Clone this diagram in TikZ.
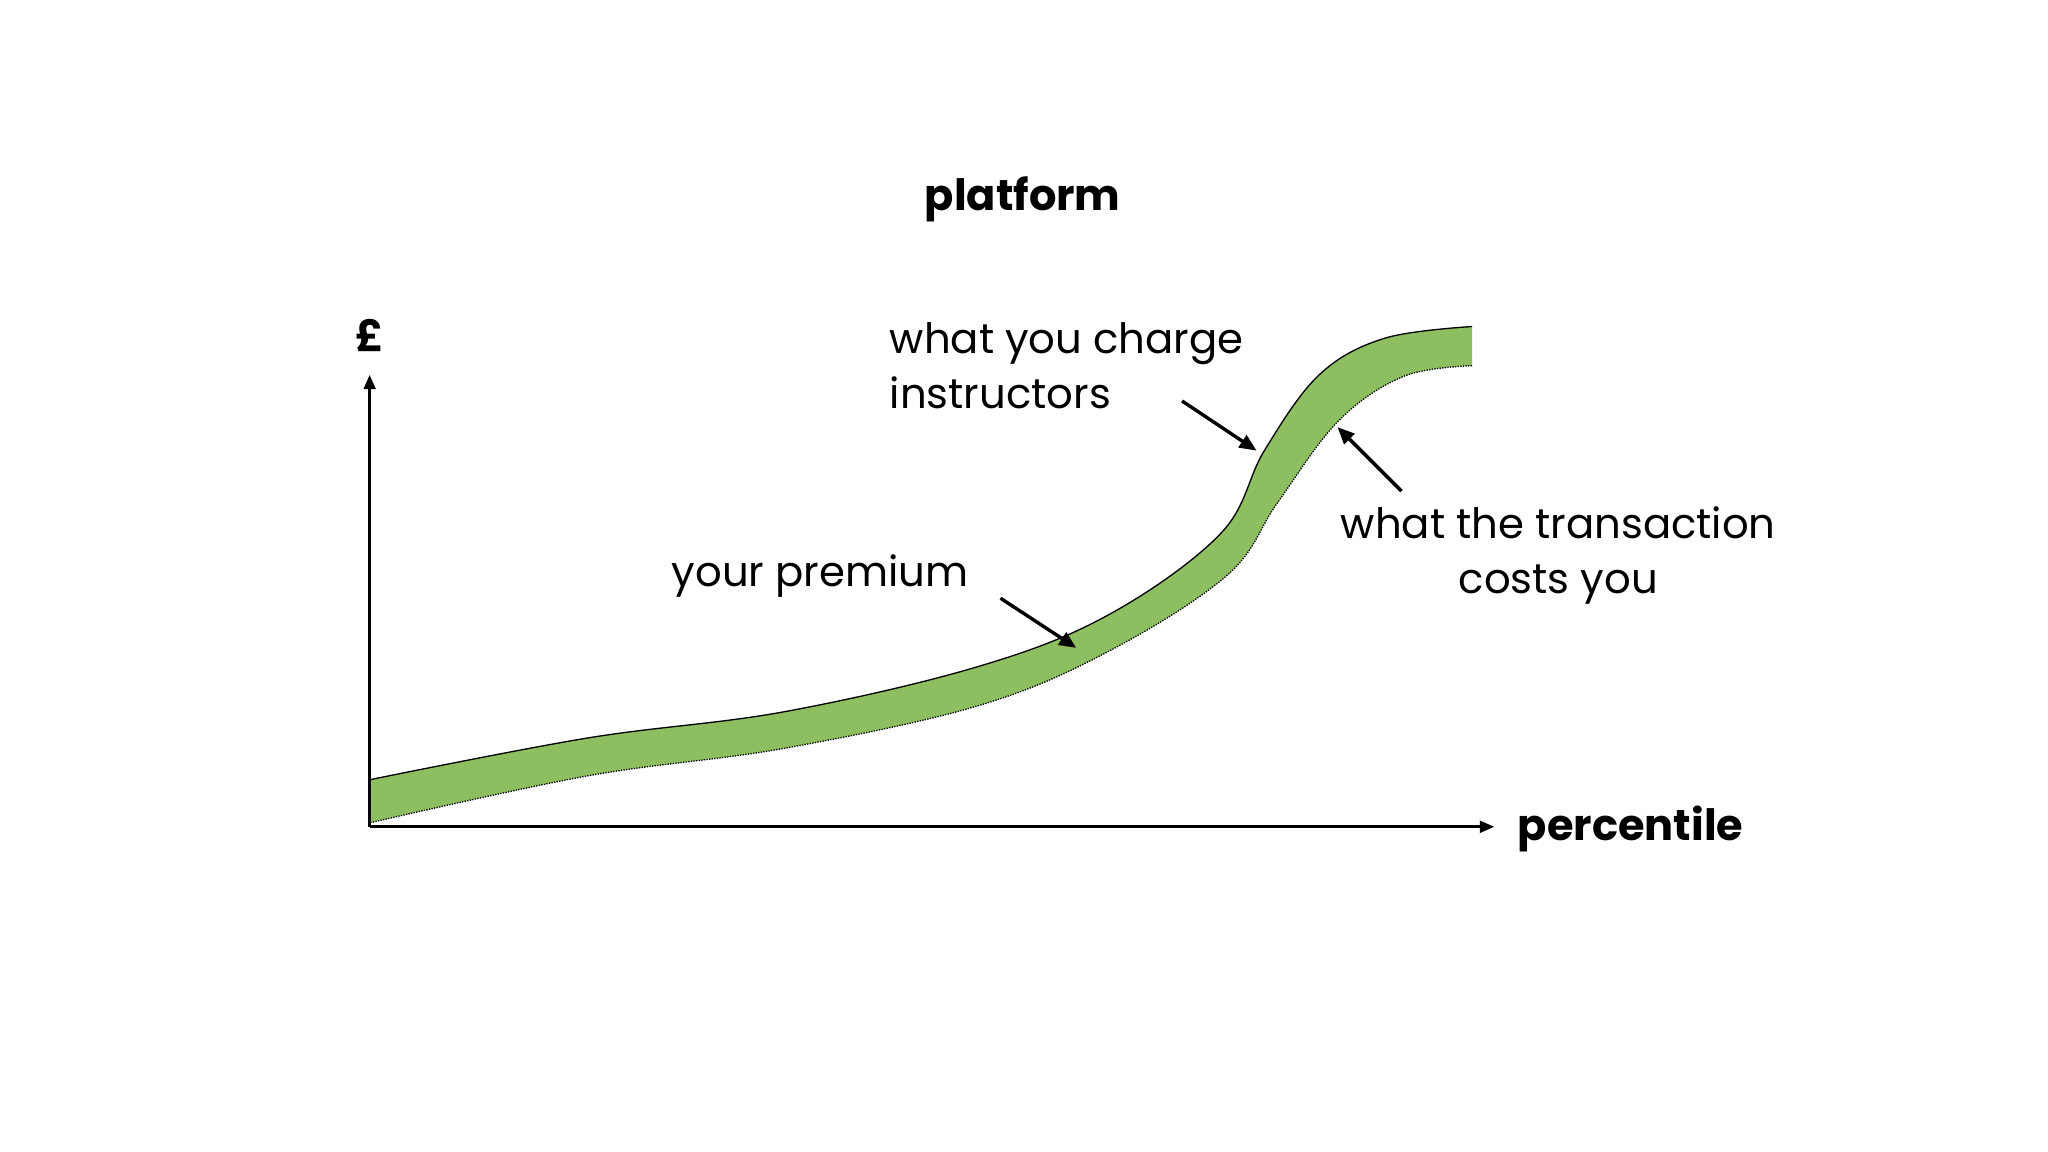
\documentclass[tikz,border=0pt]{standalone}
\usepackage{fontspec}
\setmainfont{Poppins}
\usetikzlibrary{arrows.meta}
\begin{document}
\begin{tikzpicture}[x=1pt,y=-1pt,
  lbl/.style={font=\fontsize{33}{42}\selectfont\itshape\relax, text=black, inner sep=0},
  ttl/.style={font=\fontsize{33}{40}\selectfont\bfseries, inner sep=0},
  axis/.style={line width=2.2pt,-{Triangle[length=11pt,width=9pt]}},
  pointer/.style={line width=2.6pt,-{Triangle[length=13pt,width=11pt]}}]
\useasboundingbox (0,0) rectangle (1568,882);
\fill[white] (0,0) rectangle (1568,882);
% band
\fill[fill={rgb,255:red,141;green,190;blue,95}]
  plot[smooth,tension=0.6] coordinates {(283,597) (450,565) (600,545) (750,510) (850,470) (935,408) (968,345) (1010,287) (1060,259) (1127,250)}
  -- (1127,280)
  -- plot[smooth,tension=0.6] coordinates {(1127,280) (1075,288) (1025,322) (978,385) (940,440) (850,498) (750,540) (600,573) (450,594) (283,630)} -- cycle;
\draw[line width=1pt] plot[smooth,tension=0.6] coordinates {(283,597) (450,565) (600,545) (750,510) (850,470) (935,408) (968,345) (1010,287) (1060,259) (1127,250)};
\draw[line width=1pt,densely dotted] plot[smooth,tension=0.6] coordinates {(1127,280) (1075,288) (1025,322) (978,385) (940,440) (850,498) (750,540) (600,573) (450,594) (283,630)};
% axes
\coordinate (o) at (283,633);
\coordinate (ytop) at (283,287);
\coordinate (xend) at (1144,633);
\draw[axis] (o) -- (ytop);
\draw[axis] (o) -- (xend);
\node[ttl] (pound) at (283,257) {£};
\node[ttl,anchor=west] (pct) at (1162,635) {percentile};
\node[ttl] (title) at (783,153) {platform};
% labels
\node[anchor=west,align=left,font=\fontsize{32}{42}\selectfont,inner sep=0] (charge) at (681,280) {what you charge\\instructors};
\node[font=\fontsize{32}{42}\selectfont,inner sep=0] (prem) at (628,441) {your premium};
\node[align=center,font=\fontsize{32}{42}\selectfont,inner sep=0] (cost) at (1193,425) {what the transaction\\costs you};
% pointers
\coordinate (a1s) at (905,307); \coordinate (a1e) at (962,345);
\coordinate (a2s) at (766,458); \coordinate (a2e) at (824,496);
\coordinate (a3s) at (1073,376); \coordinate (a3e) at (1024,327);
\draw[pointer] (a1s) -- (a1e);
\draw[pointer] (a2s) -- (a2e);
\draw[pointer] (a3s) -- (a3e);
\end{tikzpicture}
\end{document}
